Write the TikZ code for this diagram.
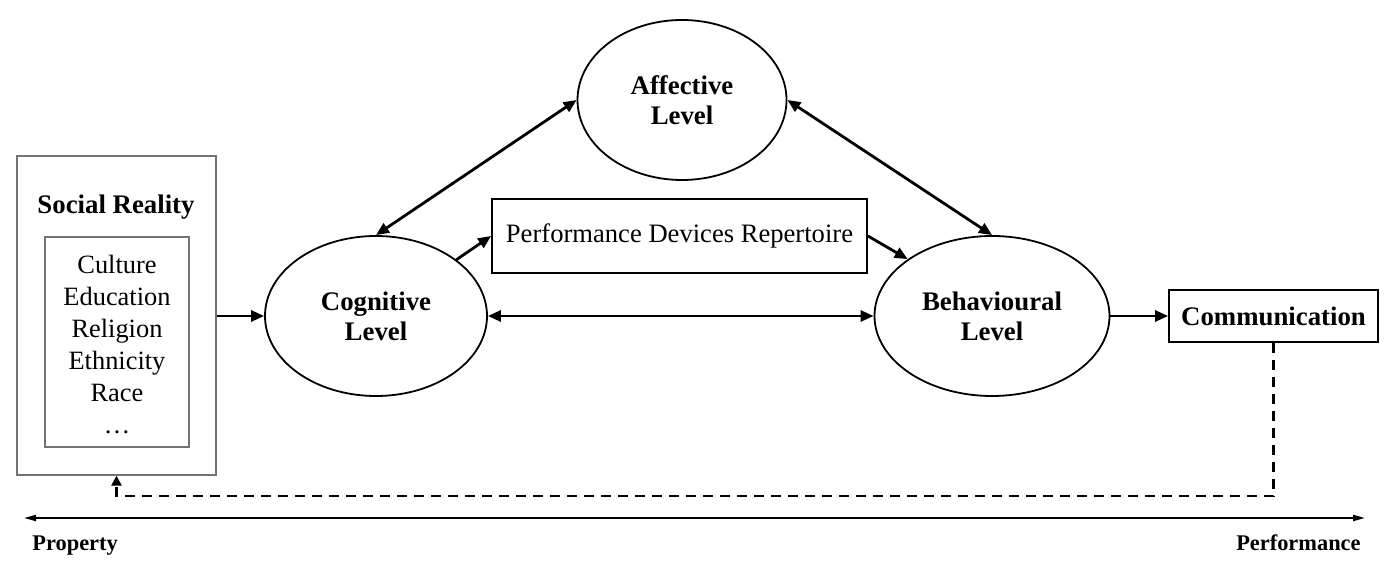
\documentclass[tikz,border=0pt]{standalone}
\usepackage{fontspec}
\setmainfont{Liberation Serif}
\usetikzlibrary{arrows.meta,shapes.geometric,calc}
\tikzset{
  lvl/.style={ellipse,draw,line width=0.9pt,inner sep=0pt,align=center,
    font=\fontsize{13.4}{15}\selectfont\bfseries,minimum height=80pt},
  plainbox/.style={draw,line width=0.9pt,inner sep=0pt},
  graybox/.style={draw=black!55,line width=0.7pt,inner sep=0pt},
  arr/.style={line width=1.4pt,-{Triangle[length=6.5pt,width=5.5pt]}},
  darr/.style={line width=1.4pt,{Triangle[length=6.5pt,width=5.5pt]}-{Triangle[length=6.5pt,width=5.5pt]}},
  fb/.style={line width=1.2pt,dash pattern=on 5pt off 3.5pt,-{Triangle[length=5pt,width=5pt]}},
  axis/.style={line width=0.9pt,{Triangle[length=6pt,width=3pt]}-{Triangle[length=6pt,width=3pt]}},
  lbl/.style={font=\fontsize{11.2}{13}\selectfont\bfseries,inner sep=0pt}
}
\begin{document}
\begin{tikzpicture}[x=0.5pt,y=-0.5pt]
\useasboundingbox (0,0) rectangle (1396,565);
% Social reality
\node[graybox,minimum width=99.5pt,minimum height=159.5pt] (soc) at (116.5,315.5) {};
\node[graybox,minimum width=72pt,minimum height=105pt] (inner) at (117,342) {};
\node[font=\fontsize{13.4}{15}\selectfont\bfseries,inner sep=0pt] (soct) at (116,207) {Social Reality};
\node[font=\fontsize{13.2}{16}\selectfont,align=center,inner sep=0pt] (items) at (117,345)
  {Culture\\Education\\Religion\\Ethnicity\\Race\\\dots};
% levels
\node[lvl,minimum width=111pt] (cog) at (376,316) {Cognitive\\Level};
\node[lvl,minimum width=117.5pt] (beh) at (992,316) {Behavioural\\Level};
\node[lvl,minimum width=104.5pt] (aff) at (682,100) {Affective\\Level};
\node[plainbox,minimum width=187.5pt,minimum height=37pt,font=\fontsize{13.3}{15}\selectfont] (pdr) at (679.5,236) {Performance Devices Repertoire};
\node[plainbox,minimum width=104.5pt,minimum height=26pt,font=\fontsize{13.4}{15}\selectfont\bfseries] (com) at (1273.5,316) {Communication};
% connectors
\draw[arr] (soc.east |- cog.west) -- (cog.west);
\draw[darr] (cog.north) -- (aff.west);
\draw[darr] (aff.east) -- (beh.north);
\draw[arr] (cog.35) -- (pdr.west);
\draw[arr] (pdr.east) -- (beh.146);
\draw[darr] (cog.east) -- (beh.west);
\draw[arr] (beh.east) -- (com.west);
\coordinate (fbc) at (116.5,496);
\draw[fb] (com.south) |- (fbc) -- (soc.south);
% axis
\coordinate (axL) at (24,518);
\coordinate (axR) at (1365,518);
\draw[axis] (axL) -- (axR);
\node[lbl,anchor=base west] (prop) at (32,551) {Property};
\node[lbl,anchor=base east] (perf) at (1361,551) {Performance};
\end{tikzpicture}
\end{document}
